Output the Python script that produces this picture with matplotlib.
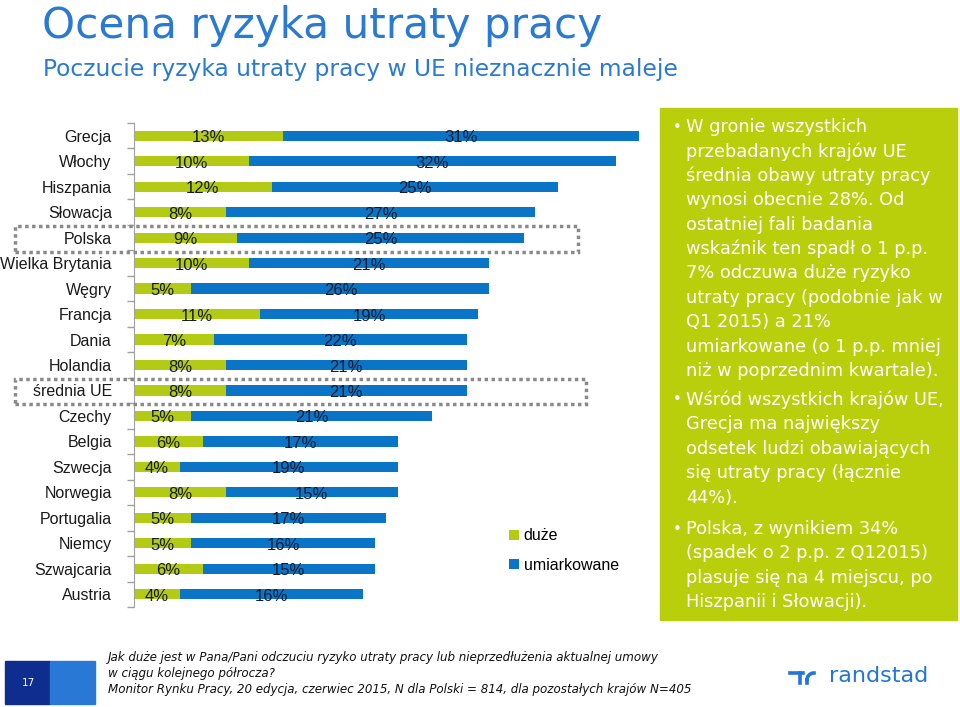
import numpy as np
import matplotlib.pyplot as plt
from matplotlib.patches import Rectangle
from matplotlib.lines import Line2D

countries = ['Grecja', 'Włochy', 'Hiszpania', 'Słowacja', 'Polska', 'Wielka Brytania',
             'Węgry', 'Francja', 'Dania', 'Holandia', 'średnia UE', 'Czechy', 'Belgia',
             'Szwecja', 'Norwegia', 'Portugalia', 'Niemcy', 'Szwajcaria', 'Austria']
duze = [13, 10, 12, 8, 9, 10, 5, 11, 7, 8, 8, 5, 6, 4, 8, 5, 5, 6, 4]
umiarkowane = [31, 32, 25, 27, 25, 21, 26, 19, 22, 21, 21, 21, 17, 19, 15, 17, 16, 15, 16]
series_names = ['duże', 'umiarkowane']
highlighted = ['Polska', 'średnia UE']

title = 'Ocena ryzyka utraty pracy'
subtitle = 'Poczucie ryzyka utraty pracy w UE nieznacznie maleje'
panel_paragraphs = [
    ['W gronie wszystkich', 'przebadanych krajów UE', 'średnia obawy utraty pracy',
     'wynosi obecnie 28%. Od', 'ostatniej fali badania', 'wskaźnik ten spadł o 1 p.p.',
     '7% odczuwa duże ryzyko', 'utraty pracy (podobnie jak w', 'Q1 2015) a 21%',
     'umiarkowane (o 1 p.p. mniej', 'niż w poprzednim kwartale).'],
    ['Wśród wszystkich krajów UE,', 'Grecja ma największy', 'odsetek ludzi obawiających',
     'się utraty pracy (łącznie', '44%).'],
    ['Polska, z wynikiem 34%', '(spadek o 2 p.p. z Q12015)', 'plasuje się na 4 miejscu, po',
     'Hiszpanii i Słowacji).'],
]
footer_lines = ['Jak duże jest w Pana/Pani odczuciu ryzyko utraty pracy lub nieprzedłużenia aktualnej umowy',
                'w ciągu kolejnego półrocza?',
                'Monitor Rynku Pracy, 20 edycja, czerwiec 2015, N dla Polski = 814, dla pozostałych krajów N=405']
page_number = '17'

GREEN = '#B4CB16'
PANEL = '#BACF0C'
BLUE = '#0A74C6'
TITLE_BLUE = '#2A79D2'
LABEL = '#151b2e'

W, H = 960, 707
fig = plt.figure(figsize=(9.6, 7.07), dpi=100)


def fx(x):
    return x / W


def fy(y):
    return 1 - y / H


# chart area
ax = fig.add_axes([fx(134), fy(607), fx(650 - 134), 484 / H])
y = np.arange(len(countries))
b1 = ax.barh(y, duze, height=0.4, color=GREEN, label=series_names[0])
b2 = ax.barh(y, umiarkowane, left=duze, height=0.4, color=BLUE, label=series_names[1])
for i in range(len(countries)):
    ax.text(duze[i] / 2, i + 0.08, f'{duze[i]}%', ha='center', va='center',
            fontsize=12, color=LABEL, family='Liberation Sans')
    ax.text(duze[i] + umiarkowane[i] / 2, i + 0.08, f'{umiarkowane[i]}%', ha='center',
            va='center', fontsize=12, color=LABEL, family='Liberation Sans')

ax.set_xlim(0, 45)
ax.set_ylim(len(countries) - 0.5, -0.5)
ax.set_yticks(y)
ax.set_yticklabels(countries, fontsize=11.5, family='Liberation Sans', color='#1a1a1a')
ax.set_yticks(np.arange(-0.5, len(countries), 1), minor=True)
ax.tick_params(axis='y', which='major', length=0, pad=16)
ax.tick_params(axis='y', which='minor', length=5, color='#a0a0a0', width=1)
ax.xaxis.set_visible(False)
for s in ['top', 'right', 'bottom']:
    ax.spines[s].set_visible(False)
ax.spines['left'].set_color('#a0a0a0')

# dotted boxes around highlighted rows
for name, right in zip(highlighted, [578, 586]):
    i = countries.index(name)
    top = 123 + (i + 0.05) * 484 / len(countries)
    bot = 123 + (i + 1.05) * 484 / len(countries)
    fig.patches.append(Rectangle((fx(15), fy(bot)), fx(right - 15), (bot - top) / H,
                                 transform=fig.transFigure, fill=False,
                                 edgecolor='#8a8a8a', linestyle=(0, (1, 1)), linewidth=2.5))

leg = fig.legend(handles=[b1, b2], labels=series_names, loc='upper left',
                 bbox_to_anchor=(fx(495), fy(514)), frameon=False, handlelength=0.6,
                 handleheight=0.6, handletextpad=0.3, labelspacing=0.9,
                 prop={'family': 'Liberation Sans', 'size': 11.5})

# titles
fig.text(fx(42), fy(38), title, fontsize=30.3, color=TITLE_BLUE, va='baseline')
fig.text(fx(43), fy(76), subtitle, fontsize=16.8, color=TITLE_BLUE, va='baseline')

# green panel
fig.patches.append(Rectangle((fx(660), fy(620)), fx(957 - 660), 512 / H,
                             transform=fig.transFigure, color=PANEL, zorder=0))
starts = [127, 400, 529]
for para, y0 in zip(panel_paragraphs, starts):
    fig.text(fx(673), fy(y0), '•', color='white', fontsize=10.5, va='center')
    for k, line in enumerate(para):
        fig.text(fx(686), fy(y0 + k * 24.4), line, color='white', fontsize=12.8,
                 va='center')

# footer
fig.patches.append(Rectangle((fx(5), fy(704)), fx(45), 43 / H,
                             transform=fig.transFigure, color='#0E2D8E'))
fig.patches.append(Rectangle((fx(50), fy(704)), fx(45), 43 / H,
                             transform=fig.transFigure, color='#2A78D6'))
fig.text(fx(28), fy(683), page_number, color='white', fontsize=7.5, ha='center', va='center')
for k, line in enumerate(footer_lines):
    fig.text(fx(108), fy(657 + k * 16), line, fontsize=8.6, style='italic',
             color='#111111', va='center')

# randstad logo
lc = '#2176D8'
fig.lines.append(Line2D([fx(790), fx(803)], [fy(673), fy(673)], transform=fig.transFigure,
                        color=lc, lw=2.6))
fig.lines.append(Line2D([fx(800), fx(800)], [fy(673), fy(683)], transform=fig.transFigure,
                        color=lc, lw=2.6))
t = np.linspace(np.pi, np.pi / 2, 20)
fig.lines.append(Line2D(fx(814 + 7 * np.cos(t)), fy(680 - 7 * np.sin(t)),
                        transform=fig.transFigure, color=lc, lw=2.6))
fig.lines.append(Line2D([fx(807), fx(807)], [fy(680), fy(683)], transform=fig.transFigure,
                        color=lc, lw=2.6))
fig.text(fx(829), fy(676), 'randstad', color=lc, fontsize=16, va='center')

fig.savefig('out.png', dpi=100)
